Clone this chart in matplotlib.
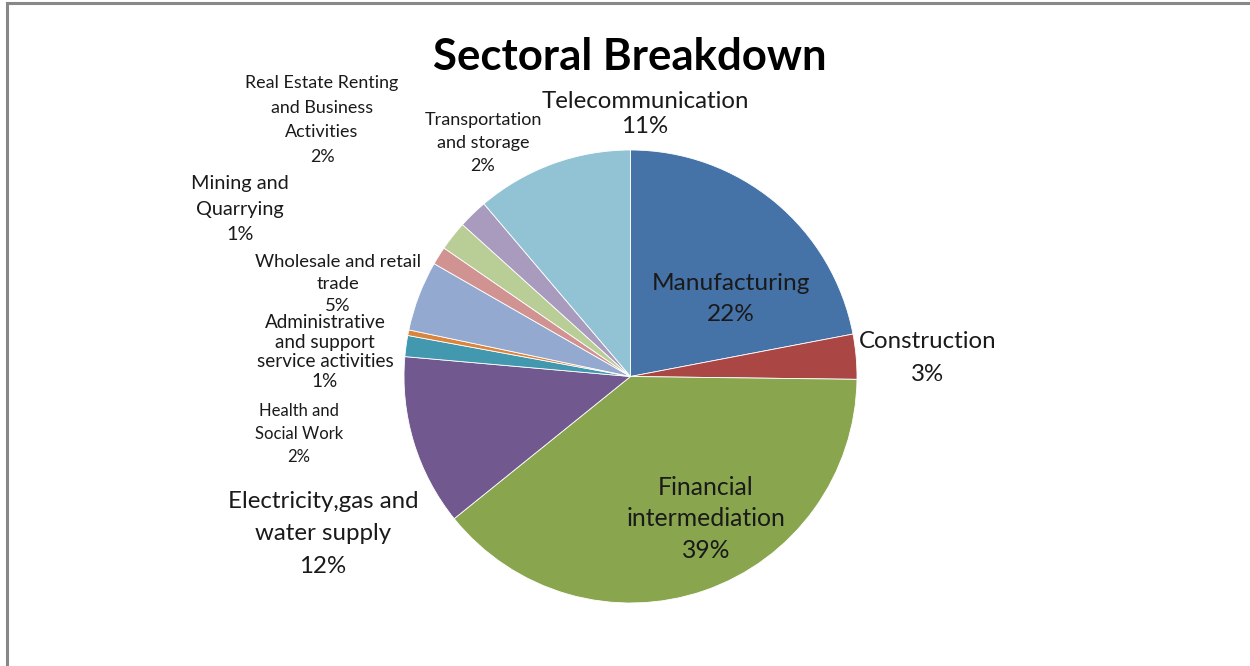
import matplotlib
matplotlib.use('Agg')
from matplotlib import pyplot as plt

plt.rcParams['font.family'] = ['Lato', 'DejaVu Sans']

# Slices, clockwise from 12 o'clock
sectors = ['Manufacturing', 'Construction', 'Financial\nintermediation',
           'Electricity,gas and\nwater supply', 'Health and\nSocial Work',
           'Administrative\nand support\nservice activities',
           'Wholesale and retail\ntrade', 'Mining and\nQuarrying',
           'Real Estate Renting\nand Business\nActivities',
           'Transportation\nand storage', 'Telecommunication']
shares = [22.0, 3.2, 39.0, 12.2, 1.5, 0.4, 5.0, 1.3, 2.1, 2.1, 11.2]
shown_pct = [22, 3, 39, 12, 2, 1, 5, 1, 2, 2, 11]
colors = ['#4572A7', '#AA4643', '#89A54E', '#71588F', '#4198AF', '#DB843D',
          '#93A9CF', '#D19392', '#B9CD96', '#A99BBD', '#92C3D4']

# label centres (pixel coords of the picture), font sizes, line spacing
label_pos = [(731, 299), (928, 358), (706, 519), (323, 534), (299, 434),
             (325, 352), (338, 284), (240, 209), (322, 120), (483, 143),
             (645, 114)]
label_size = [17.6, 17.3, 17.8, 17.3, 12, 13.6, 13.3, 14.3, 12.9, 13, 17.3]
label_gap = [1.55, 1.7, 1.47, 1.65, 1.5, 1.19, 1.46, 1.6, 1.68, 1.55, 1.27]

W, H = 1250, 666
fig = plt.figure(figsize=(W / 100, H / 100), dpi=100)
ax = fig.add_axes([0, 0, 1, 1])

ax.pie(shares, colors=colors, startangle=90, counterclock=False,
       center=(630.5, H - 376.5), radius=226.5, frame=True,
       wedgeprops=dict(edgecolor='white', linewidth=0.6))
ax.set_xlim(0, W)
ax.set_ylim(0, H)
ax.set_aspect('equal')
ax.axis('off')

for name, pct, (x, y), fs, gap in zip(sectors, shown_pct, label_pos,
                                       label_size, label_gap):
    ax.text(x, H - y, f"{name}\n{pct}%", ha='center', va='center',
            fontsize=fs, color='#1a1a1a', linespacing=gap)

ax.text(630, H - 57, 'Sectoral Breakdown', ha='center', va='center',
        fontsize=31.5, fontweight='bold', color='black')

# chart frame (only top and left edges visible)
ax.plot([7, 7, W], [0, H - 3, H - 3], color='#888888', linewidth=2.2,
        solid_joinstyle='miter')

fig.savefig('out.png', dpi=100)
